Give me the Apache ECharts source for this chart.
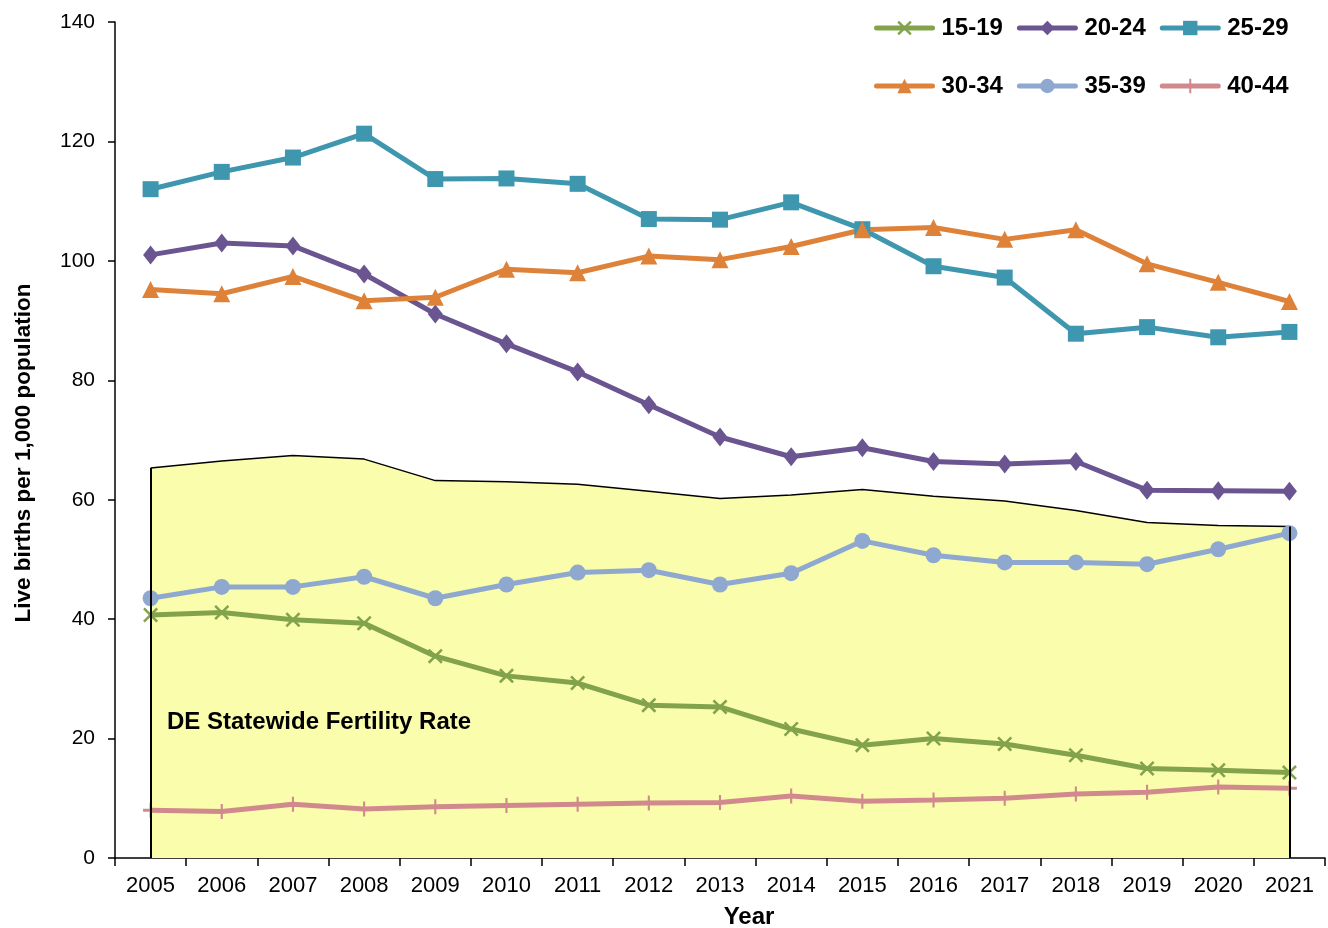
<!DOCTYPE html>
<html>
<head>
<meta charset="utf-8">
<script src="https://cdn.jsdelivr.net/npm/echarts@6/dist/echarts.min.js"></script>
<style>html,body{margin:0;padding:0;background:#fff}#c{width:1328px;height:928px}</style>
</head>
<body>
<div id="c"></div>
<script>
const years = ['2005','2006','2007','2008','2009','2010','2011','2012','2013','2014','2015','2016','2017','2018','2019','2020','2021'];
const fertilityRate = [65.3,66.5,67.4,66.8,63.2,63.0,62.6,61.4,60.2,60.8,61.7,60.6,59.8,58.2,56.2,55.7,55.5];
const age15_19 = [40.7,41.1,39.9,39.3,33.8,30.5,29.3,25.6,25.3,21.6,18.9,20.0,19.1,17.2,15.0,14.7,14.3];
const age20_24 = [101.0,103.0,102.5,97.8,91.1,86.1,81.4,75.9,70.5,67.2,68.7,66.4,66.0,66.4,61.6,61.5,61.4];
const age25_29 = [112.0,114.9,117.3,121.3,113.7,113.8,112.9,107.0,106.9,109.8,105.3,99.1,97.2,87.8,88.9,87.2,88.1];
const age30_34 = [95.2,94.5,97.4,93.3,93.9,98.6,98.0,100.8,100.2,102.4,105.2,105.6,103.6,105.2,99.5,96.4,93.2];
const age35_39 = [43.5,45.4,45.4,47.1,43.5,45.8,47.8,48.2,45.8,47.7,53.1,50.7,49.5,49.5,49.2,51.7,54.4];
const age40_44 = [8.0,7.8,9.0,8.2,8.6,8.8,9.0,9.2,9.3,10.4,9.5,9.7,10.0,10.7,11.0,11.9,11.7];
const seriesNames = ['15-19','20-24','25-29','30-34','35-39','40-44'];
const yTicks = {min: 0, max: 140, interval: 20};
const areaLabel = 'DE Statewide Fertility Rate';

const FONT = 'Liberation Sans, Arial, sans-serif';
const X_PATH = 'path://M0,1.2L1.2,0L5,3.8L8.8,0L10,1.2L6.2,5L10,8.8L8.8,10L5,6.2L1.2,10L0,8.8L3.8,5Z';
const PLUS_PATH = 'path://M4.3,0H5.7V4H10V6H5.7V10H4.3V6H0V4H4.3Z';

function lineSeries(name, data, color, symbol, size) {
  return {
    name: name, type: 'line', data: data, z: 3,
    symbol: symbol, symbolSize: size,
    lineStyle: {color: color, width: 5},
    itemStyle: {color: color},
    emphasis: {disabled: true}
  };
}

const chart = echarts.init(document.getElementById('c'), null, {renderer: 'canvas'});
const legendCommon = {
  itemWidth: 56, itemHeight: 18, itemGap: 14, orient: 'horizontal', padding: 0,
  lineStyle: {width: 5, cap: 'round'},
  textStyle: {fontFamily: FONT, fontSize: 24, fontWeight: 'bold', color: '#000', padding: [0,0,0,4]},
  selectedMode: false
};
chart.setOption({
  animation: false,
  backgroundColor: '#fff',
  grid: {left: 115, right: 3, top: 22, bottom: 70, outerBoundsMode: 'none', containLabel: false},
  legend: [
    Object.assign({left: 874, top: 16, data: seriesNames.slice(0,3)}, legendCommon),
    Object.assign({left: 874, top: 74, data: seriesNames.slice(3)}, legendCommon)
  ],
  xAxis: {
    type: 'category', data: years, boundaryGap: true,
    axisLine: {lineStyle: {color: '#000', width: 1.5}},
    axisTick: {show: true, length: 8, lineStyle: {color: '#000', width: 1.5}},
    axisLabel: {fontFamily: FONT, fontSize: 22, color: '#000', margin: 17},
    name: 'Year', nameLocation: 'middle', nameGap: 47,
    nameTextStyle: {fontFamily: FONT, fontSize: 24, fontWeight: 'bold', color: '#000', padding: [0,0,0,58]}
  },
  yAxis: {
    type: 'value', min: yTicks.min, max: yTicks.max, interval: yTicks.interval,
    splitLine: {show: false},
    axisLine: {show: true, lineStyle: {color: '#000', width: 1.5}},
    axisTick: {show: true, length: 7, lineStyle: {color: '#000', width: 1.5}},
    axisLabel: {fontFamily: FONT, fontSize: 21, color: '#000', margin: 20},
    name: 'Live births per 1,000 population', nameLocation: 'middle', nameGap: 80,
    nameTextStyle: {fontFamily: FONT, fontSize: 22.5, fontWeight: 'bold', color: '#000', padding: [0,26,0,0]}
  },
  graphic: [{
    type: 'text', left: 167, top: 710, z: 100,
    style: {text: areaLabel, font: 'bold 24px ' + FONT, fill: '#000'}
  }],
  series: [
    {
      name: 'Fertility', type: 'line', data: fertilityRate, z: 1,
      symbol: 'none',
      lineStyle: {color: '#000', width: 1.5},
      areaStyle: {color: '#FAFDAB', opacity: 1},
      emphasis: {disabled: true},
      markLine: {
        silent: true, symbol: 'none', label: {show: false},
        lineStyle: {color: '#000', width: 2, type: 'solid'},
        data: [
          [{coord: [years[0], 0]}, {coord: [years[0], fertilityRate[0]]}],
          [{coord: [years[years.length-1], 0]}, {coord: [years[years.length-1], fertilityRate[fertilityRate.length-1]]}]
        ]
      }
    },
    lineSeries(seriesNames[0], age15_19, '#82A34B', X_PATH, 15),
    lineSeries(seriesNames[1], age20_24, '#6B5591', 'diamond', [15, 19]),
    lineSeries(seriesNames[2], age25_29, '#3E97AE', 'rect', 16),
    lineSeries(seriesNames[3], age30_34, '#DF8239', 'triangle', 17),
    lineSeries(seriesNames[4], age35_39, '#8EA8D0', 'circle', 16),
    lineSeries(seriesNames[5], age40_44, '#D08A8D', PLUS_PATH, 15)
  ]
});
</script>
</body>
</html>
